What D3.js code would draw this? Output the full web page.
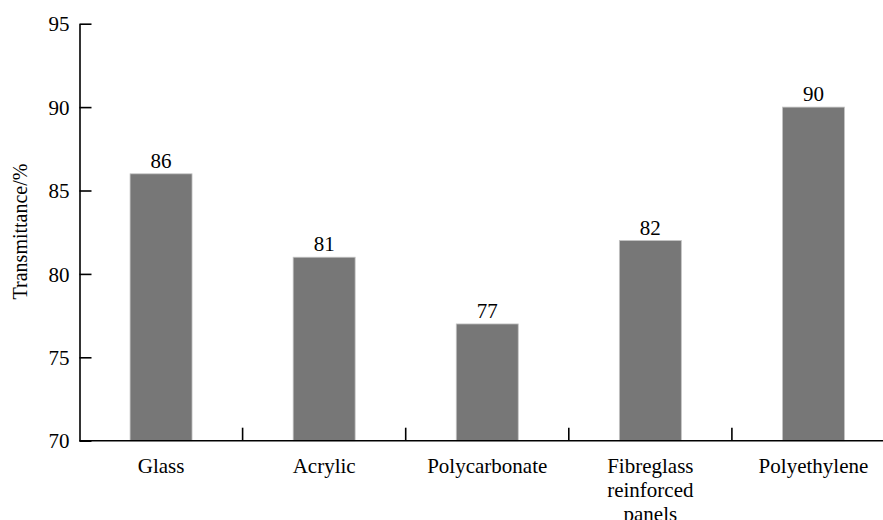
<!DOCTYPE html>
<html><head><meta charset="utf-8">
<script src="https://cdn.jsdelivr.net/npm/d3@7"></script>
<style>body{margin:0;background:#fff}svg{display:block}</style>
</head><body>
<svg id="c" width="883" height="520"></svg>
<script>
const categories = ["Glass", "Acrylic", "Polycarbonate", "Fibreglass reinforced panels", "Polyethylene"];
const categoryLines = [["Glass"], ["Acrylic"], ["Polycarbonate"], ["Fibreglass", "reinforced", "panels"], ["Polyethylene"]];
const values = [86, 81, 77, 82, 90];
const yTicks = [70, 75, 80, 85, 90, 95];
const yLabel = "Transmittance/%";

const FONT = "Liberation Serif";
const svg = d3.select("#c");
const x0 = 79.5, x1 = 895, yTop = 23.7, yBot = 440.7;
const x = d3.scaleBand().domain(categories).range([x0, x1]).padding(0);
const y = d3.scaleLinear().domain([70, 95]).range([yBot, yTop]);
const barW = x.bandwidth() * 0.38;

svg.append("g").selectAll("rect").data(values).join("rect")
  .attr("x", (d, i) => x(categories[i]) + x.bandwidth() / 2 - barW / 2)
  .attr("y", d => y(d))
  .attr("width", barW)
  .attr("height", d => y(70) - y(d))
  .attr("fill", "#777777")
  .attr("stroke", "#c4c4c4").attr("stroke-width", 0.8);

svg.append("g").selectAll("text").data(values).join("text")
  .attr("x", (d, i) => x(categories[i]) + x.bandwidth() / 2)
  .attr("y", d => y(d) - 6)
  .attr("text-anchor", "middle").attr("font-size", 21).attr("font-family", FONT).attr("fill", "#000")
  .text(d => d);

// y axis
const ya = svg.append("g").attr("transform", `translate(${x0},0)`)
  .call(d3.axisLeft(y).tickValues(yTicks).tickSize(-12).tickPadding(10).tickSizeOuter(0));
ya.attr("font-family", FONT);
ya.select(".domain").attr("stroke", "#000").attr("stroke-width", 1.6);
ya.selectAll(".tick line").attr("stroke", "#000").attr("stroke-width", 1.6);
ya.selectAll(".tick text").attr("font-size", 21).attr("font-family", FONT).attr("fill", "#000").attr("dy", "0.34em");

// x axis line and ticks
svg.append("line").attr("x1", x0).attr("x2", x1).attr("y1", yBot).attr("y2", yBot)
  .attr("stroke", "#000").attr("stroke-width", 1.6);
svg.append("g").selectAll("line").data(categories.slice(1)).join("line")
  .attr("x1", d => x(d)).attr("x2", d => x(d))
  .attr("y1", yBot).attr("y2", yBot - 13)
  .attr("stroke", "#000").attr("stroke-width", 1.6);

const cl = svg.append("g").selectAll("text").data(categoryLines).join("text")
  .attr("text-anchor", "middle").attr("font-size", 21).attr("font-family", FONT).attr("fill", "#000")
  .attr("transform", (d, i) => `translate(${x(categories[i]) + x.bandwidth() / 2},473)`);
cl.selectAll("tspan").data(d => d).join("tspan")
  .attr("x", 0).attr("y", (d, j) => j * 24).text(d => d);

svg.append("text").attr("transform", "translate(27,231.5) rotate(-90)")
  .attr("text-anchor", "middle").attr("font-size", 20).attr("font-family", FONT).attr("fill", "#000").text(yLabel);
</script>
</body></html>
